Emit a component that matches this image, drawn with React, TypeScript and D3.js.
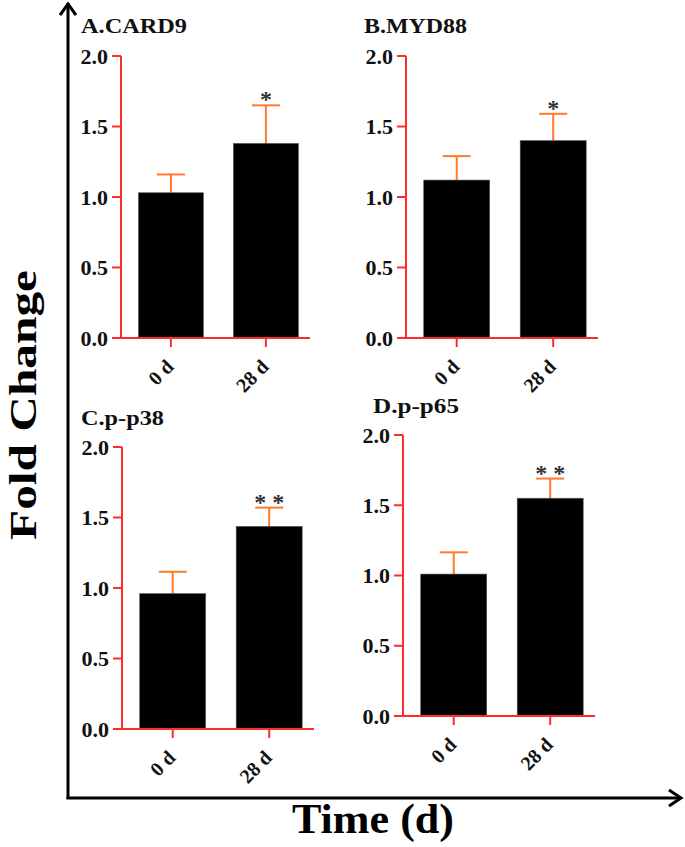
import React from "react";
import * as d3 from "d3";

const categories = ["0 d", "28 d"];
const panelTitles = ["A.CARD9", "B.MYD88", "C.p-p38", "D.p-p65"];
const meanCARD9 = [1.03, 1.38];
const errCARD9 = [1.16, 1.65];
const meanMYD88 = [1.12, 1.4];
const errMYD88 = [1.29, 1.59];
const meanP38 = [0.96, 1.437];
const errP38 = [1.115, 1.57];
const meanP65 = [1.01, 1.55];
const errP65 = [1.165, 1.69];
const sigMarks = [["", "*"], ["", "*"], ["", "* *"], ["", "* *"]];
const yTicks = [0, 0.5, 1.0, 1.5, 2.0];

const means = [meanCARD9, meanMYD88, meanP38, meanP65];
const errs = [errCARD9, errMYD88, errP38, errP65];

// layout (pixels)
const layout = [
  { ax: 121, xEnd: 310, y0: 338, y2: 56, tx: 81, ty: 33, tl: 106 },
  { ax: 406, xEnd: 598, y0: 338, y2: 56, tx: 364, ty: 33, tl: 103 },
  { ax: 122, xEnd: 314, y0: 729, y2: 447, tx: 81, ty: 425, tl: 83 },
  { ax: 403, xEnd: 595, y0: 716, y2: 435, tx: 373, ty: 413, tl: 86 },
];

const FONT = "'Liberation Serif', 'Times New Roman', serif";
const RED = "#ff2b2b";
const ORANGE = "#ff7a2a";

function Panel({ i }: { i: number }) {
  const L = layout[i];
  const x = d3
    .scaleBand<string>()
    .domain(categories)
    .range([L.ax, L.xEnd])
    .paddingInner(0.316)
    .paddingOuter(0.153)
    .align(0.6);
  const y = d3.scaleLinear().domain([0, 2]).range([L.y0, L.y2]);
  const fmt = d3.format(".1f");
  const bw = x.bandwidth();
  return (
    <g>
      <text
        x={L.tx}
        y={L.ty}
        fontFamily={FONT}
        fontWeight="bold"
        fontSize={20}
        textLength={L.tl}
        lengthAdjust="spacingAndGlyphs"
        fill="#111"
      >
        {panelTitles[i]}
      </text>
      {categories.map((c, j) => {
        const cx = (x(c) as number) + bw / 2;
        const top = y(means[i][j]);
        const et = y(errs[i][j]);
        return (
          <g key={c}>
            <line x1={cx} x2={cx} y1={top} y2={et} stroke={ORANGE} strokeWidth={2} />
            <line x1={cx - 14} x2={cx + 14} y1={et} y2={et} stroke={ORANGE} strokeWidth={2} />
            <rect
              x={x(c)}
              y={top}
              width={bw}
              height={L.y0 - top}
              fill="#000"
              stroke="#555"
              strokeWidth={0.6}
            />
            {sigMarks[i][j] && (
              <text
                x={cx}
                y={et + 2}
                textAnchor="middle"
                fontFamily={FONT}
                fontWeight="bold"
                fontSize={24}
                fill="#333"
              >
                {sigMarks[i][j]}
              </text>
            )}
            <line x1={cx} x2={cx} y1={L.y0} y2={L.y0 + 9} stroke={RED} strokeWidth={2} />
            <text
              transform={`translate(${cx + 4},${L.y0 + 30}) rotate(-45)`}
              textAnchor="end"
              fontFamily={FONT}
              fontWeight="bold"
              fontSize={20}
              fill="#111"
            >
              {c}
            </text>
          </g>
        );
      })}
      <line x1={L.ax} x2={L.ax} y1={L.y2} y2={L.y0} stroke={RED} strokeWidth={2} />
      <line x1={L.ax} x2={L.xEnd} y1={L.y0} y2={L.y0} stroke={RED} strokeWidth={2} />
      {yTicks.map((t) => (
        <g key={t}>
          <line x1={L.ax - 9} x2={L.ax} y1={y(t)} y2={y(t)} stroke={RED} strokeWidth={2} />
          <text
            x={L.ax - 13}
            y={y(t)}
            dy="0.35em"
            textAnchor="end"
            fontFamily={FONT}
            fontWeight="bold"
            fontSize={22}
            fill="#111"
          >
            {fmt(t)}
          </text>
        </g>
      ))}
    </g>
  );
}

export default function App() {
  return (
    <svg
      width={685}
      height={847}
      style={{ position: "absolute", left: 0, top: 0, background: "#fff" }}
    >
      <rect width={685} height={847} fill="#fff" />
      {/* big axes */}
      <line x1={68} x2={68} y1={799} y2={3} stroke="#000" strokeWidth={3} />
      <polyline points="60,15 68,4 76,15" fill="none" stroke="#000" strokeWidth={3} />
      <line x1={66.5} x2={681} y1={798} y2={798} stroke="#000" strokeWidth={3} />
      <polyline points="669,790 681,798 669,806" fill="none" stroke="#000" strokeWidth={3} />
      <text
        transform="translate(36,405) rotate(-90)"
        textAnchor="middle"
        fontFamily={FONT}
        fontWeight="bold"
        fontSize={38}
        textLength={270}
        lengthAdjust="spacingAndGlyphs"
        fill="#000"
      >
        Fold Change
      </text>
      <text
        x={292}
        y={833}
        fontFamily={FONT}
        fontWeight="bold"
        fontSize={42}
        textLength={162}
        lengthAdjust="spacingAndGlyphs"
        fill="#000"
      >
        Time (d)
      </text>
      {[0, 1, 2, 3].map((i) => (
        <Panel key={i} i={i} />
      ))}
    </svg>
  );
}
